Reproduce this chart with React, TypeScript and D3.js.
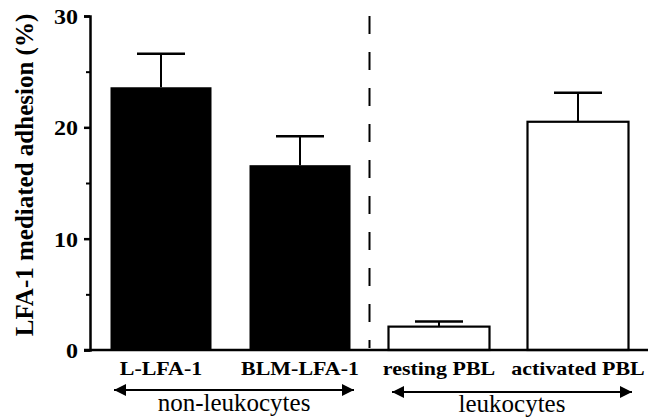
import React, { useEffect, useRef } from "react";
import * as d3 from "d3";

const categories = ["L-LFA-1", "BLM-LFA-1", "resting PBL", "activated PBL"];
const means = [23.6, 16.6, 2.1, 20.5];
const errors = [3.0, 2.6, 0.45, 2.6];
const filled = [true, true, false, false];
const majorTicks = [0, 10, 20, 30];
const minorTicks = [5, 15, 25];
const groups = [
  { name: "non-leukocytes", from: 0, to: 1 },
  { name: "leukocytes", from: 2, to: 3 },
];

const W = 655;
const H = 418;
const SERIF = "'Liberation Serif', 'Times New Roman', serif";

const App = () => {
  const ref = useRef<SVGSVGElement>(null);

  useEffect(() => {
    const svg = d3.select(ref.current);
    svg.selectAll("*").remove();

    const y = d3.scaleLinear().domain([0, 30]).range([350, 16]);
    const x = d3
      .scaleBand()
      .domain(categories)
      .range([91.5, 647.5])
      .padding(0);
    const barW = 101;
    const cx = (c: string) => (x(c) as number) + x.bandwidth() / 2;

    // bars
    svg
      .selectAll("rect.bar")
      .data(categories)
      .enter()
      .append("rect")
      .attr("x", (d) => cx(d) - barW / 2)
      .attr("y", (d, i) => y(means[i]))
      .attr("width", barW)
      .attr("height", (d, i) => y(0) - y(means[i]))
      .attr("fill", (d, i) => (filled[i] ? "#000" : "#fff"))
      .attr("stroke", "#000")
      .attr("stroke-width", (d, i) => (filled[i] ? 0 : 2.2));

    // error bars
    const eb = svg.selectAll("g.err").data(categories).enter().append("g");
    eb.append("line")
      .attr("x1", (d) => cx(d))
      .attr("x2", (d) => cx(d))
      .attr("y1", (d, i) => y(means[i]))
      .attr("y2", (d, i) => y(means[i] + errors[i]))
      .attr("stroke", "#000")
      .attr("stroke-width", 2);
    eb.append("line")
      .attr("x1", (d) => cx(d) - 24)
      .attr("x2", (d) => cx(d) + 24)
      .attr("y1", (d, i) => y(means[i] + errors[i]))
      .attr("y2", (d, i) => y(means[i] + errors[i]))
      .attr("stroke", "#000")
      .attr("stroke-width", 2.5);

    // axes
    const yAxis = d3
      .axisLeft(y)
      .tickValues(majorTicks)
      .tickSize(6)
      .tickFormat(d3.format("d"));
    const gy = svg.append("g").attr("transform", "translate(90,0)").call(yAxis);
    gy.select(".domain").attr("stroke-width", 2.5);
    gy.selectAll(".tick line").attr("stroke-width", 2.5);
    gy.selectAll(".tick text")
      .attr("x", 0)
      .attr("transform", "translate(-12,1) scale(1.2,1)")
      .style("font-family", SERIF)
      .style("font-weight", "bold")
      .style("font-size", "20px");
    svg
      .append("g")
      .attr("transform", "translate(90,0)")
      .call(d3.axisLeft(y).tickValues(minorTicks).tickSize(4).tickFormat(() => ""))
      .call((g) => g.select(".domain").remove())
      .selectAll("line")
      .attr("stroke-width", 2);

    svg
      .append("line")
      .attr("x1", 84)
      .attr("x2", 648)
      .attr("y1", y(0))
      .attr("y2", y(0))
      .attr("stroke", "#000")
      .attr("stroke-width", 2.5);

    // divider
    const divX = (cx(categories[1]) + cx(categories[2])) / 2;
    svg
      .append("line")
      .attr("x1", divX)
      .attr("x2", divX)
      .attr("y1", 16)
      .attr("y2", 348)
      .attr("stroke", "#000")
      .attr("stroke-width", 2)
      .attr("stroke-dasharray", "18,18");

    // category labels
    svg
      .selectAll("text.cat")
      .data(categories)
      .enter()
      .append("text")
      .attr("transform", (d) => `translate(${cx(d)},375) scale(1.22,1)`)
      .attr("text-anchor", "middle")
      .style("font-family", SERIF)
      .style("font-weight", "bold")
      .style("font-size", "18px")
      .text((d) => d);

    // y label
    svg
      .append("text")
      .attr("transform", "translate(33,175) rotate(-90)")
      .attr("text-anchor", "middle")
      .style("font-family", SERIF)
      .style("font-weight", "bold")
      .style("font-size", "25px")
      .text("LFA-1 mediated adhesion (%)");

    // group arrows
    const defs = svg.append("defs");
    ["start", "end"].forEach((k) => {
      defs
        .append("marker")
        .attr("id", "arr-" + k)
        .attr("viewBox", "0 0 10 10")
        .attr("refX", k === "end" ? 10 : 0)
        .attr("refY", 5)
        .attr("markerWidth", 8)
        .attr("markerHeight", 6)
        .attr("markerUnits", "strokeWidth")
        .attr("orient", "auto")
        .append("path")
        .attr("d", k === "end" ? "M0,0L10,5L0,10Z" : "M10,0L0,5L10,10Z")
        .attr("fill", "#000");
    });
    groups.forEach((g, gi) => {
      const x1 = cx(categories[g.from]) - 47;
      const x2 = cx(categories[g.to]) + 54;
      const ay = 390 + gi * 2;
      svg
        .append("line")
        .attr("x1", x1)
        .attr("x2", x2)
        .attr("y1", ay)
        .attr("y2", ay)
        .attr("stroke", "#000")
        .attr("stroke-width", 2)
        .attr("marker-start", "url(#arr-start)")
        .attr("marker-end", "url(#arr-end)");
      svg
        .append("text")
        .attr("x", (x1 + x2) / 2)
        .attr("y", 411 + gi * 1)
        .attr("text-anchor", "middle")
        .style("font-family", SERIF)
        .style("font-size", "25px")
        .text(g.name);
    });
  }, []);

  return (
    <div style={{ position: "absolute", left: 0, top: 0 }}>
      <svg ref={ref} width={W} height={H} style={{ display: "block", background: "#fff" }}></svg>
    </div>
  );
};

export default App;
